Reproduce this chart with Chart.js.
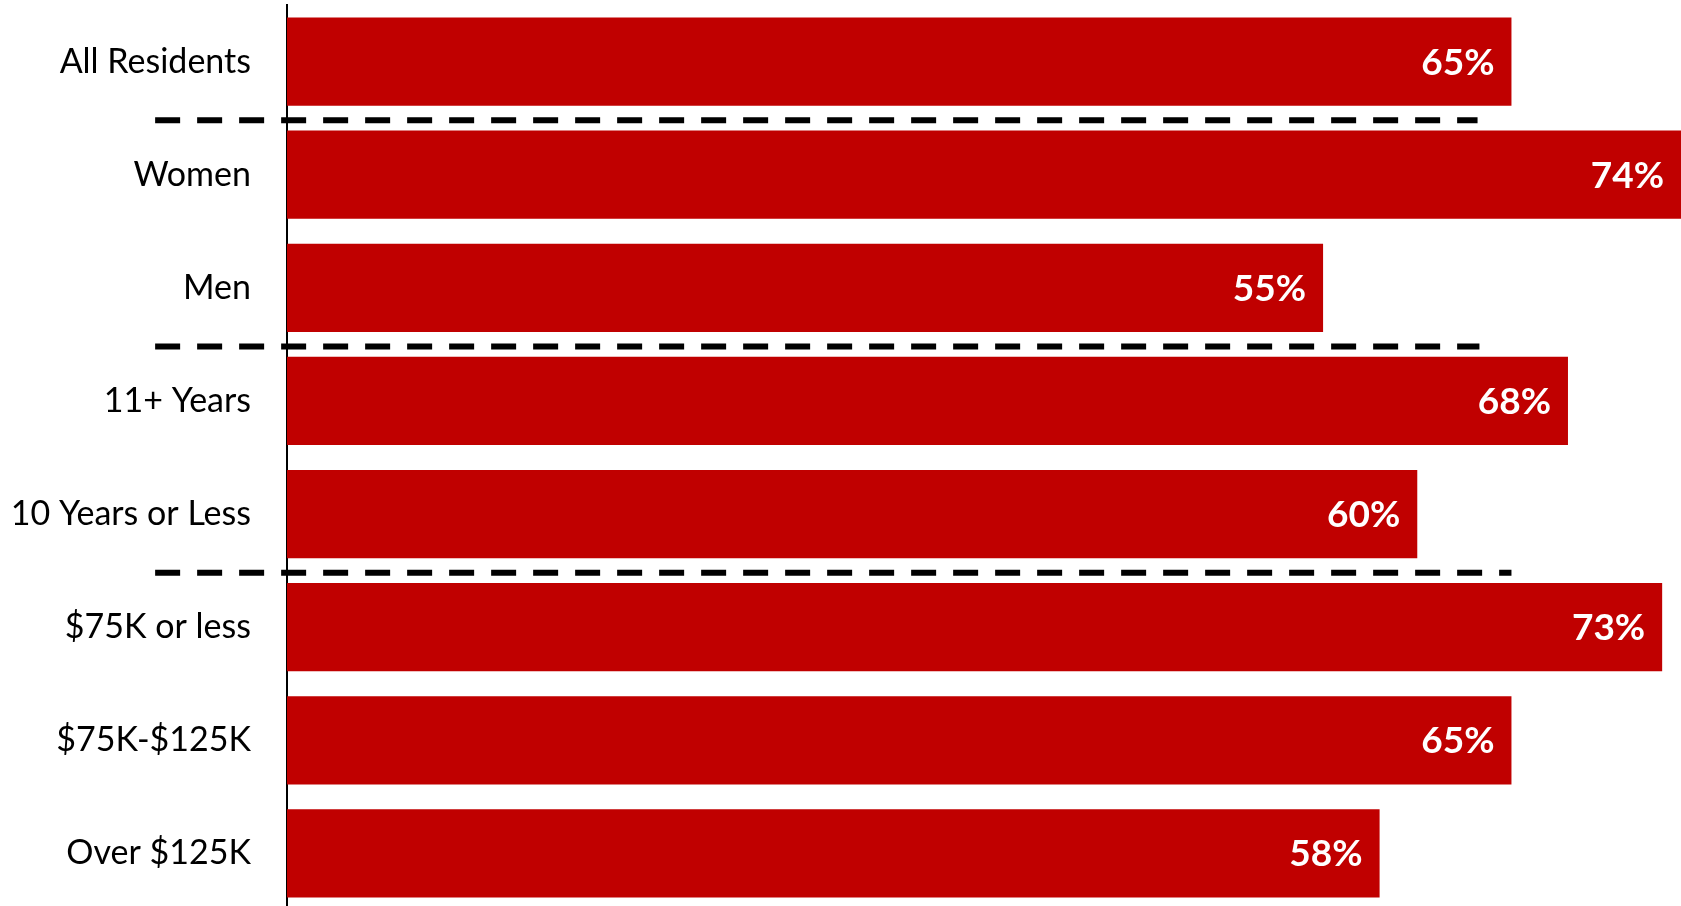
<!DOCTYPE html>
<html>
<head>
<meta charset="utf-8">
<script src="https://cdn.jsdelivr.net/npm/chart.js@4/dist/chart.umd.min.js"></script>
<style>
  html, body { margin: 0; padding: 0; background: #ffffff; overflow: hidden; }
  #wrap { position: relative; width: 1681px; height: 910px; }
</style>
</head>
<body>
<div id="wrap"><canvas id="c" width="1681" height="910"></canvas></div>
<script>
const categories = ["All Residents", "Women", "Men", "11+ Years", "10 Years or Less", "$75K or less", "$75K-$125K", "Over $125K"];
const values = [65, 74, 55, 68, 60, 73, 65, 58];
const valueLabels = ["65%", "74%", "55%", "68%", "60%", "73%", "65%", "58%"];
// dashed group separators: after which category index, and where they end (in value units)
const separatorAfter = [0, 2, 4];
const separatorEnd = [63.2, 63.3, 65.0];
const separatorStart = -7.0;

const barColor = "#C00000";

const valueLabelPlugin = {
  id: "valueLabels",
  afterDatasetsDraw(chart) {
    const ctx = chart.ctx;
    const meta = chart.getDatasetMeta(0);
    ctx.save();
    ctx.fillStyle = "#ffffff";
    ctx.font = "bold 37px Lato";
    ctx.textAlign = "right";
    ctx.textBaseline = "middle";
    meta.data.forEach((bar, i) => {
      ctx.fillText(valueLabels[i], bar.x - 17, bar.y + 1);
    });
    ctx.restore();
  }
};

const separatorPlugin = {
  id: "separators",
  afterDatasetsDraw(chart) {
    const ctx = chart.ctx;
    const xs = chart.scales.x, ys = chart.scales.y;
    ctx.save();
    ctx.strokeStyle = "#000000";
    ctx.lineWidth = 6;
    ctx.lineCap = "butt";
    ctx.setLineDash([25, 17]);
    separatorAfter.forEach((idx, k) => {
      const y = (ys.getPixelForValue(idx) + ys.getPixelForValue(idx + 1)) / 2 + 2;
      ctx.beginPath();
      ctx.moveTo(xs.getPixelForValue(separatorStart), y);
      ctx.lineTo(xs.getPixelForValue(separatorEnd[k]), y);
      ctx.stroke();
    });
    ctx.restore();
  }
};

new Chart(document.getElementById("c"), {
  type: "bar",
  data: {
    labels: categories,
    datasets: [{
      data: values,
      backgroundColor: barColor,
      borderWidth: 0,
      categoryPercentage: 1.0,
      barPercentage: 0.78
    }]
  },
  options: {
    indexAxis: "y",
    responsive: false,
    animation: false,
    devicePixelRatio: 1,
    layout: { padding: { top: 5, left: 0, right: 0, bottom: 0 } },
    plugins: { legend: { display: false }, tooltip: { enabled: false } },
    scales: {
      x: {
        display: false,
        min: 0,
        max: 74
      },
      y: {
        grid: { display: false, drawTicks: false },
        border: { display: true, color: "#000000", width: 2 },
        ticks: {
          color: "#000000",
          font: { family: "Lato", size: 34 },
          padding: 36
        },
        afterFit(scale) {
          scale.width = 287;
          scale.paddingTop = 0;
          scale.paddingBottom = 0;
        }
      }
    }
  },
  plugins: [valueLabelPlugin, separatorPlugin]
});
</script>
</body>
</html>
